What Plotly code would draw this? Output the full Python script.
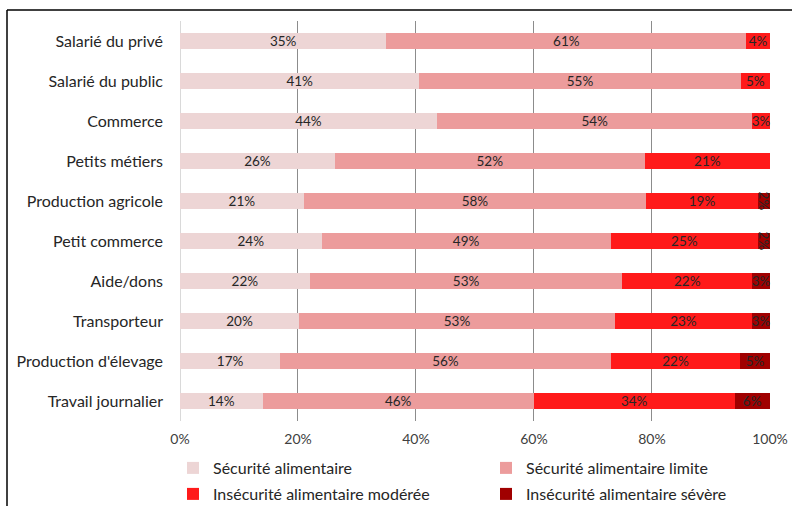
import plotly.graph_objects as go

# Categories (top to bottom)
categories = [
    "Salarié du privé", "Salarié du public", "Commerce", "Petits métiers",
    "Production agricole", "Petit commerce", "Aide/dons", "Transporteur",
    "Production d'élevage", "Travail journalier",
]

# Share of households (%) per food security level
securite = [35, 41, 44, 26, 21, 24, 22, 20, 17, 14]
limite = [61, 55, 54, 52, 58, 49, 53, 53, 56, 46]
moderee = [4, 5, 3, 21, 19, 25, 22, 23, 22, 34]
severe = [0, 0, 0, 0, 2, 2, 3, 3, 5, 6]

series = [
    ("Sécurité alimentaire", securite, "#EDD5D5", "legend"),
    ("Sécurité alimentaire limite", limite, "#EC9C9C", "legend"),
    ("Insécurité alimentaire modérée", moderee, "#FF1A1A", "legend2"),
    ("Insécurité alimentaire sévère", severe, "#A00000", "legend2"),
]

FONT = "Lato, Carlito, 'Liberation Sans', sans-serif"
W, H = 792, 506
L, R, T, B = 180, 22, 21, 85
PW, PH = W - L - R, H - T - B


def px_x(p):
    return (p - L) / PW


def px_y(p):
    return (H - B - p) / PH


fig = go.Figure()
for name, vals, color, leg in series:
    fig.add_trace(go.Bar(
        y=categories, x=vals, name=name, orientation="h", legend=leg,
        marker=dict(color=color, line=dict(width=0)),
        text=[f"{v}%" if v else "" for v in vals],
        textposition="inside", insidetextanchor="middle",
        textfont=dict(family=FONT, size=13.5, color="#262626"),
        constraintext="none", cliponaxis=False,
    ))

# Outer frame (top and left edges)
frame = dict(color="#000000", width=1.5)
fig.add_shape(type="line", xref="paper", yref="paper",
              x0=px_x(7), x1=px_x(W), y0=px_y(10), y1=px_y(10), line=frame)
fig.add_shape(type="line", xref="paper", yref="paper",
              x0=px_x(7), x1=px_x(7), y0=px_y(10), y1=px_y(H), line=frame)

legend_style = dict(
    orientation="h", x=px_x(173), xanchor="left", yanchor="top",
    entrywidth=268, entrywidthmode="pixels",
    font=dict(family=FONT, size=16, color="#262626"),
    traceorder="normal", bgcolor="rgba(0,0,0,0)",
)

fig.update_layout(
    width=W, height=H,
    margin=dict(l=L, r=R, t=T, b=B, autoexpand=False),
    barmode="stack", barnorm="percent", bargap=0.6,
    plot_bgcolor="white", paper_bgcolor="white",
    font=dict(family=FONT, size=14, color="#262626"),
    uniformtext=dict(minsize=13.5, mode="show"),
    xaxis=dict(
        range=[0, 100.01], tickvals=[0, 20, 40, 60, 80, 100],
        ticktext=["0%", "20%", "40%", "60%", "80%", "100%"],
        showgrid=True, gridcolor="#8C8C8C", gridwidth=1,
        zeroline=True, zerolinecolor="#D9D9D9", zerolinewidth=1,
        showline=False, ticks="", ticklabelstandoff=8,
        tickfont=dict(family=FONT, size=14, color="#404040"),
    ),
    yaxis=dict(
        autorange="reversed", showgrid=False, showline=False, ticks="",
        ticklabelstandoff=16,
        tickfont=dict(family=FONT, size=16, color="#262626"),
    ),
    legend=dict(legend_style, y=px_y(451)),
    legend2=dict(legend_style, y=px_y(477)),
)

fig.write_html("out.html")
